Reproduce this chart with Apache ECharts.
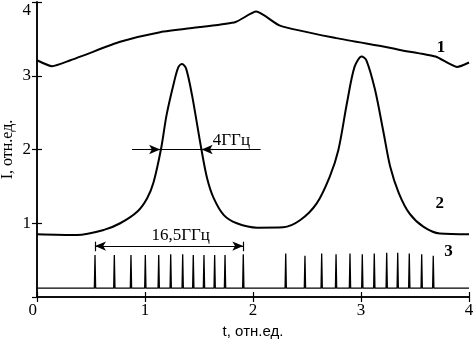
<!DOCTYPE html>
<html>
<head>
<meta charset="utf-8">
<script src="https://cdn.jsdelivr.net/npm/echarts@6/dist/echarts.min.js"></script>
<style>
  html, body { margin: 0; padding: 0; background: #fff; }
  #main { width: 473px; height: 339px; }
</style>
</head>
<body>
<div id="main"></div>
<script>
// axis ticks
const xTicks = ['0', '1', '2', '3', '4'];
const yTicks = ['0', '1', '2', '3', '4'];

// curve 1
const c1T = [0, 0.14, 0.31, 0.44, 0.77, 1.14, 1.51, 1.84, 2.03, 2.25, 2.77, 3.23, 3.36, 3.69, 3.89, 4.0];
const c1V = [3.21, 3.13, 3.21, 3.28, 3.46, 3.59, 3.66, 3.73, 3.87, 3.68, 3.51, 3.39, 3.35, 3.26, 3.12, 3.18];

// curve 2
const c2T = [0, 0.37, 0.62, 0.77, 0.93, 1.02, 1.08, 1.15, 1.20, 1.27, 1.31, 1.343, 1.38, 1.435, 1.52, 1.575, 1.636, 1.73, 1.85, 2.04, 2.28,
  2.435, 2.59, 2.71, 2.79, 2.87, 2.94, 3.006, 3.05, 3.13, 3.21, 3.27, 3.35, 3.45, 3.58, 3.73, 4.0];
const c2V = [0.85, 0.84, 0.91, 1.0, 1.16, 1.34, 1.56, 2.02, 2.47, 2.92, 3.12, 3.16, 3.10, 2.74, 2.02, 1.61, 1.34, 1.11, 1.0, 0.94, 0.945,
  1.04, 1.27, 1.63, 1.99, 2.63, 3.12, 3.26, 3.21, 2.81, 2.22, 1.77, 1.41, 1.13, 0.95, 0.86, 0.85];

// curve 3 (pulse train)
const pulseBase = 0.12;
const pulseT = [0.537, 0.716, 0.870, 1.003, 1.127, 1.238, 1.349, 1.447, 1.546, 1.645, 1.741, 1.910,
  2.303, 2.481, 2.636, 2.769, 2.898, 3.012, 3.123, 3.238, 3.340, 3.447, 3.562, 3.669];
const pulseH = [0.57, 0.57, 0.57, 0.57, 0.57, 0.58, 0.58, 0.57, 0.57, 0.57, 0.57, 0.58,
  0.59, 0.56, 0.59, 0.58, 0.59, 0.58, 0.59, 0.60, 0.60, 0.59, 0.58, 0.56];

const c1Data = c1T.map((t, i) => [t, c1V[i]]);
const c2Data = c2T.map((t, i) => [t, c2V[i]]);
const c3Data = [[0, pulseBase]];
pulseT.forEach((t, i) => {
  c3Data.push([t - 0.006, pulseBase], [t, pulseH[i]], [t + 0.006, pulseBase]);
});
c3Data.push([4, pulseBase]);

const serif = '"Liberation Serif", "DejaVu Serif", serif';
const lbl = (text, coord, size, weight) => ({
  coord: coord, symbolSize: 0,
  label: { show: true, position: 'inside', formatter: text, color: '#000', fontFamily: serif, fontSize: size, fontWeight: weight || 'normal' }
});
const seg = (a, b, sa, sb) => [{ coord: a, symbol: sa || 'none' }, { coord: b, symbol: sb || 'none' }];

const chart = echarts.init(document.getElementById('main'));

const axisCommon = {
  type: 'value', min: 0, max: 4, interval: 1,
  axisLine: { show: true, lineStyle: { color: '#000', width: 1.5 } },
  axisTick: { show: true, inside: true, length: 5, lineStyle: { color: '#000', width: 1.2 } },
  splitLine: { show: false },
};

const option = {
  animation: false,
  backgroundColor: '#fff',
  grid: { left: 37, right: 4, top: 2, bottom: 42, containLabel: false, outerBoundsMode: 'none' },
  xAxis: [
    Object.assign({}, axisCommon, {
      position: 'bottom',
      name: 't, отн.ед.',
      nameLocation: 'middle',
      nameGap: 21,
      nameTextStyle: { color: '#000', fontFamily: '"Liberation Sans", Arial, sans-serif', fontSize: 15 },
      axisLabel: {
        color: '#000', fontFamily: serif, fontSize: 17, margin: 5,
        alignMinLabel: 'right',
        formatter: (v) => xTicks[Math.round(v)]
      }
    }),
    Object.assign({}, axisCommon, { position: 'top', axisLabel: { show: false } })
  ],
  yAxis: [
    Object.assign({}, axisCommon, {
      position: 'left',
      name: 'I, отн.ед.',
      nameLocation: 'middle',
      nameGap: 21,
      nameMoveOverlap: false,
      nameTextStyle: { color: '#000', fontFamily: serif, fontSize: 16 },
      axisLabel: {
        color: '#000', fontFamily: serif, fontSize: 17, margin: 6,
        showMinLabel: false,
        verticalAlignMaxLabel: 'top',
        formatter: (v) => yTicks[Math.round(v)]
      }
    }),
    Object.assign({}, axisCommon, { position: 'right', axisLabel: { show: false } })
  ],
  series: [
    {
      name: '1', type: 'line', data: c1Data, showSymbol: false, smooth: 0.2,
      lineStyle: { color: '#000', width: 2 },
      markPoint: { silent: true, data: [lbl('1', [3.74, 3.38], 17, 'bold')] }
    },
    {
      name: '2', type: 'line', data: c2Data, showSymbol: false, smooth: 0.3,
      lineStyle: { color: '#000', width: 2 },
      markPoint: { silent: true, data: [lbl('2', [3.73, 1.26], 17, 'bold'), lbl('4ГГц', [1.80, 2.12], 17)] },
      markLine: {
        silent: true, symbolSize: [7, 11],
        label: { show: false },
        lineStyle: { color: '#000', width: 1.2, type: 'solid' },
        data: [
          seg([0.88, 2], [2.07, 2]),
          seg([1.04, 2], [1.14, 2], 'none', 'arrow'),
          seg([1.63, 2], [1.525, 2], 'none', 'arrow')
        ]
      }
    },
    {
      name: '3', type: 'line', data: c3Data, showSymbol: false,
      lineStyle: { color: '#000', width: 1.3 },
      markPoint: { silent: true, data: [lbl('3', [3.81, 0.62], 17, 'bold'), lbl('16,5ГГц', [1.33, 0.84], 17)] },
      markLine: {
        silent: true, symbolSize: [7, 11],
        label: { show: false },
        lineStyle: { color: '#000', width: 1.2, type: 'solid' },
        data: [
          seg([0.537, 0.69], [1.91, 0.69], 'arrow', 'arrow'),
          seg([0.537, 0.62], [0.537, 0.75]),
          seg([1.91, 0.62], [1.91, 0.75])
        ]
      }
    }
  ]
};

chart.setOption(option);
</script>
</body>
</html>
